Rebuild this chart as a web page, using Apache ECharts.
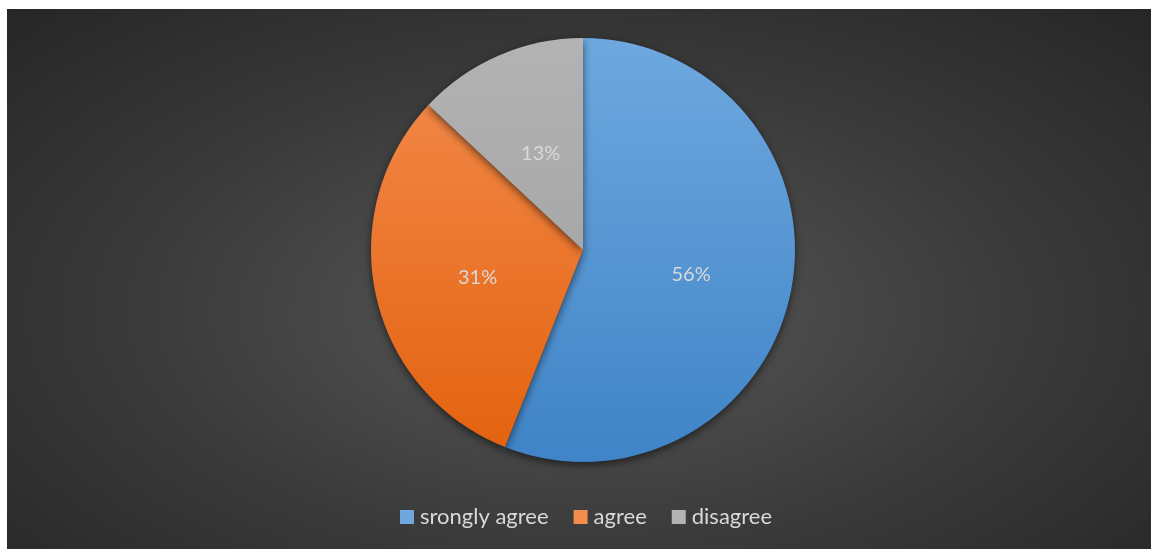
<!DOCTYPE html>
<html>
<head>
<meta charset="utf-8">
<script src="https://cdn.jsdelivr.net/npm/echarts@6/dist/echarts.min.js"></script>
<style>
  html, body { margin: 0; padding: 0; background: #ffffff; }
  #chart {
    position: absolute; left: 7px; top: 9px; width: 1144px; height: 540px;
    background: radial-gradient(ellipse farthest-corner at 50% 56%, #595959 0%, #3a3a3a 55%, #262626 100%);
  }
</style>
</head>
<body>
<div id="chart"></div>
<script>
// Survey responses, share of each answer (%)
const categories = ['srongly agree', 'agree', 'disagree'];
const values = [56, 31, 13];
const sliceColors = [
  ['#6ea8df', '#3f84c7'],
  ['#f48c4e', '#e3610d'],
  ['#b3b3b3', '#9c9c9c']
];

const pieCenter = [576, 241];
const pieRadius = 212;

// vertical shading across the whole pie, top lighter
function vGrad(top, bottom) {
  return new echarts.graphic.LinearGradient(
    0, pieCenter[1] - pieRadius, 0, pieCenter[1] + pieRadius,
    [{ offset: 0, color: top }, { offset: 1, color: bottom }],
    true
  );
}

const chart = echarts.init(document.getElementById('chart'), null, { renderer: 'canvas' });

chart.setOption({
  backgroundColor: 'transparent',
  animation: false,
  textStyle: { fontFamily: 'Lato, "Open Sans", sans-serif' },
  legend: {
    data: categories.map((name, i) => ({ name: name, itemStyle: { color: sliceColors[i][0] } })),
    bottom: 16,
    left: 388,
    itemWidth: 14,
    itemHeight: 14,
    itemGap: 25,
    icon: 'rect',
    textStyle: { color: '#d9d9d9', fontSize: 22, fontFamily: 'Lato, sans-serif', padding: [0, 0, 0, 1] }
  },
  series: [{
    type: 'pie',
    center: pieCenter,
    radius: pieRadius,
    startAngle: 90,
    clockwise: true,
    label: {
      show: true,
      position: 'inside',
      formatter: '{c}%',
      color: '#d9d9d9',
      fontSize: 20,
      fontFamily: 'Lato, sans-serif',
      offset: [1, 4]
    },
    labelLine: { show: false },
    emphasis: { disabled: true },
    itemStyle: {
      shadowBlur: 8,
      shadowOffsetY: 3,
      shadowColor: 'rgba(0,0,0,0.55)'
    },
    data: categories.map((name, i) => ({
      name: name,
      value: values[i],
      itemStyle: { color: vGrad(sliceColors[i][0], sliceColors[i][1]) }
    }))
  }]
});
</script>
</body>
</html>
